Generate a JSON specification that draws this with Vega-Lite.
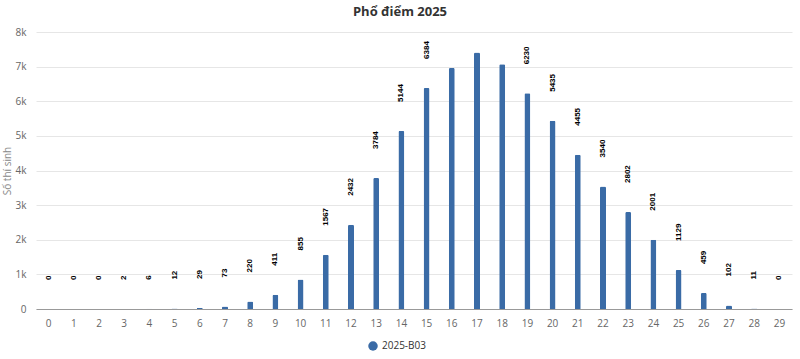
{
  "$schema": "https://vega.github.io/schema/vega-lite/v6.json",
  "autosize": {"type": "none"},
  "padding": {"left": 36, "top": 32, "right": 8, "bottom": 50},
  "width": 756,
  "height": 277,
  "background": "#ffffff",
  "title": {
    "text": "Phổ điểm 2025",
    "fontSize": 13,
    "font": "Open Sans",
    "fontWeight": "bold",
    "color": "#333333",
    "anchor": "middle",
    "dx": -14,
    "offset": 8
  },
  "data": {
    "values": [
      {"diem": 0, "so": 0, "series": "2025-B03"},
      {"diem": 1, "so": 0, "series": "2025-B03"},
      {"diem": 2, "so": 0, "series": "2025-B03"},
      {"diem": 3, "so": 2, "series": "2025-B03"},
      {"diem": 4, "so": 6, "series": "2025-B03"},
      {"diem": 5, "so": 12, "series": "2025-B03"},
      {"diem": 6, "so": 29, "series": "2025-B03"},
      {"diem": 7, "so": 73, "series": "2025-B03"},
      {"diem": 8, "so": 220, "series": "2025-B03"},
      {"diem": 9, "so": 411, "series": "2025-B03"},
      {"diem": 10, "so": 855, "series": "2025-B03"},
      {"diem": 11, "so": 1567, "series": "2025-B03"},
      {"diem": 12, "so": 2432, "series": "2025-B03"},
      {"diem": 13, "so": 3784, "series": "2025-B03"},
      {"diem": 14, "so": 5144, "series": "2025-B03"},
      {"diem": 15, "so": 6384, "series": "2025-B03"},
      {"diem": 16, "so": 6960, "series": "2025-B03"},
      {"diem": 17, "so": 7410, "series": "2025-B03"},
      {"diem": 18, "so": 7070, "series": "2025-B03"},
      {"diem": 19, "so": 6230, "series": "2025-B03"},
      {"diem": 20, "so": 5435, "series": "2025-B03"},
      {"diem": 21, "so": 4455, "series": "2025-B03"},
      {"diem": 22, "so": 3540, "series": "2025-B03"},
      {"diem": 23, "so": 2802, "series": "2025-B03"},
      {"diem": 24, "so": 2001, "series": "2025-B03"},
      {"diem": 25, "so": 1129, "series": "2025-B03"},
      {"diem": 26, "so": 459, "series": "2025-B03"},
      {"diem": 27, "so": 102, "series": "2025-B03"},
      {"diem": 28, "so": 11, "series": "2025-B03"},
      {"diem": 29, "so": 0, "series": "2025-B03"}
    ]
  },
  "encoding": {
    "x": {
      "field": "diem",
      "type": "ordinal",
      "sort": "ascending",
      "scale": {"paddingInner": 0, "paddingOuter": 0},
      "axis": {
        "title": null,
        "labelAngle": 0,
        "labelFont": "Open Sans",
        "labelFontSize": 10,
        "labelColor": "#666666",
        "labelPadding": 9,
        "ticks": false,
        "domainColor": "#999999",
        "domainWidth": 1,
        "grid": false
      }
    },
    "y": {
      "field": "so",
      "type": "quantitative",
      "scale": {"domain": [0, 8000], "nice": false},
      "axis": {
        "title": "Số thí sinh",
        "titleFont": "Open Sans",
        "titleFontSize": 10,
        "titleFontWeight": "normal",
        "titleColor": "#888888",
        "titleX": -29,
        "titleBaseline": "middle",
        "values": [0, 1000, 2000, 3000, 4000, 5000, 6000, 7000, 8000],
        "labelExpr": "datum.value == 0 ? '0' : (datum.value / 1000) + 'k'",
        "labelFont": "Open Sans",
        "labelFontSize": 10,
        "labelColor": "#666666",
        "labelPadding": 10,
        "ticks": false,
        "domain": false,
        "gridColor": "#e6e6e6",
        "gridWidth": 1
      }
    }
  },
  "layer": [
    {
      "mark": {"type": "bar", "size": 6, "cornerRadiusTopLeft": 1.5, "cornerRadiusTopRight": 1.5},
      "encoding": {
        "color": {
          "field": "series",
          "type": "nominal",
          "scale": {"range": ["#3a6ba6"]},
          "legend": {
            "title": null,
            "orient": "none",
            "legendX": 332,
            "legendY": 309,
            "symbolType": "circle",
            "symbolSize": 90,
            "symbolStrokeWidth": 0,
            "labelFont": "Open Sans",
            "labelFontSize": 10,
            "labelColor": "#333333",
            "direction": "horizontal"
          }
        }
      }
    },
    {
      "transform": [{"filter": "datum.so < 6500 || datum.diem == 15"}],
      "mark": {
        "type": "text",
        "angle": 270,
        "align": "left",
        "baseline": "middle",
        "font": "Liberation Sans",
        "fontWeight": "bold",
        "fontSize": 8,
        "color": "#000000",
        "yOffset": -29
      },
      "encoding": {
        "text": {"field": "so", "type": "quantitative", "format": "d"}
      }
    }
  ],
  "config": {
    "view": {"stroke": null}
  }
}
